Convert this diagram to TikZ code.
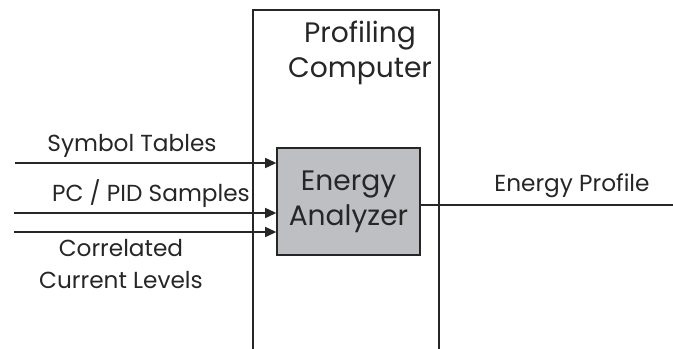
\documentclass[tikz,border=0pt]{standalone}
\usepackage{fontspec}
\setmainfont{Poppins}
\usetikzlibrary{arrows.meta,positioning}
\definecolor{anagray}{HTML}{BEBFC3}
\definecolor{diagink}{HTML}{262626}

\begin{document}
\begin{tikzpicture}[x=0.025cm,y=-0.025cm,
    lbl/.style={text=diagink, font=\fontsize{16.5}{23}\selectfont, align=center, inner sep=0pt},
    biglbl/.style={lbl, font=\fontsize{20}{25}\selectfont},
    feed/.style={diagink, line width=1.4pt, -{Triangle[length=8pt,width=7pt]}}]
  \useasboundingbox (0,0) rectangle (673,349);

  % profiling computer, open at the bottom
  \draw[diagink, line width=0.8pt] (253,349) |- (439,10) -- (439,349);
  \node[biglbl] (pc) at (360,53) {Profiling\\Computer};

  \node[draw=diagink, fill=anagray, line width=0.8pt, minimum width=3.575cm, minimum height=2.675cm,
        biglbl] (ana) at (348.5,201.5) {Energy\\Analyzer};

  % inputs
  \coordinate (stin) at (15,163);
  \coordinate (pcin) at (14,213);
  \coordinate (cuin) at (14,232);
  \draw[feed] (stin) -- (ana.west |- stin);
  \draw[feed] (pcin) -- (ana.west |- pcin);
  \draw[feed] (cuin) -- (ana.west |- cuin);

  \node[lbl] (stlbl) at (132,146) {Symbol Tables};
  \node[lbl] (pclbl) at (151,194) {PC / PID Samples};
  \node[lbl] (culbl) at (121,264) {Correlated\\Current Levels};

  % output
  \coordinate (epout) at (673,205);
  \draw[diagink, line width=1.4pt] (ana.east |- epout) -- (epout);
  \node[lbl] (eplbl) at (572,186) {Energy Profile};
\end{tikzpicture}
\end{document}
